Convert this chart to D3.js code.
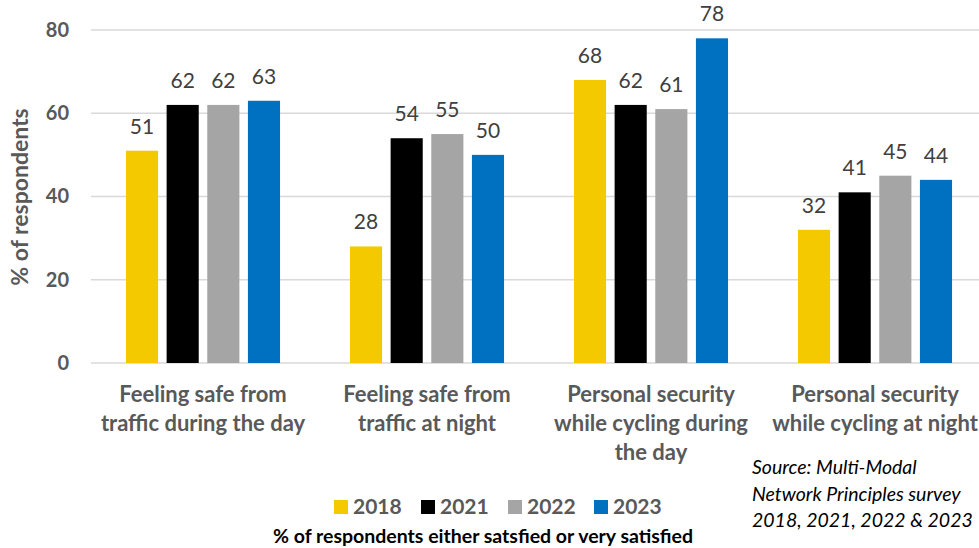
<!DOCTYPE html>
<html>
<head>
<meta charset="utf-8">
<script src="https://cdn.jsdelivr.net/npm/d3@7"></script>
<style>
  body { margin: 0; background: #fff; }
  text { font-family: Lato, "Open Sans", sans-serif; }
</style>
</head>
<body>
<div id="chart"></div>
<script>
// data
const categories = [
  ["Feeling safe from", "traffic during the day"],
  ["Feeling safe from", "traffic at night"],
  ["Personal security", "while cycling during", "the day"],
  ["Personal security", "while cycling at night"]
]
const years = ["2018", "2021", "2022", "2023"]
const values2018 = [51, 28, 68, 32]
const values2021 = [62, 54, 62, 41]
const values2022 = [62, 55, 61, 45]
const values2023 = [63, 50, 78, 44]
const yTicks = [0, 20, 40, 60, 80]
const colors = ["#F5C900", "#000000", "#A5A5A5", "#0070C0"]

const series = [values2018, values2021, values2022, values2023]

let width = 979
let height = 548

const svg = d3.select('#chart')
  .append('svg')
  .attr('width', width)
  .attr('height', height)

let x0 = d3.scaleBand()
  .domain(d3.range(categories.length))
  .range([91, 987])
  .padding(0)

let x1 = d3.scaleBand()
  .domain(years)
  .range([0, x0.bandwidth()])
  .paddingInner(0.21)
  .paddingOuter(0.86)

let y = d3.scaleLinear()
  .domain([0, 80])
  .range([363, 30])

// gridlines
svg.append('g')
  .selectAll('line')
  .data(yTicks)
  .join('line')
  .attr('x1', 91)
  .attr('x2', width)
  .attr('y1', d => y(d))
  .attr('y2', d => y(d))
  .attr('stroke', '#d9d9d9')
  .attr('stroke-width', 1.3)

// y axis labels
yAxis = g => g
  .attr('transform', 'translate(77,0)')
  .call(d3.axisLeft(y).tickValues(yTicks).tickSize(0).tickPadding(8))
  .call(g => g.select('.domain').remove())
  .call(g => g.selectAll('text')
    .attr('font-size', 20)
    .attr('font-weight', 'bold')
    .attr('fill', '#595959')
    .style('font-family', 'Lato, sans-serif'))

svg.append('g').call(yAxis)

svg.append('text')
  .attr('transform', 'translate(28,197) rotate(-90)')
  .attr('text-anchor', 'middle')
  .attr('font-size', 23)
  .attr('font-weight', 'bold')
  .attr('fill', '#595959')
  .text('% of respondents')

// bars
series.forEach(function(vals, si){
  let g = svg.append('g')
  g.selectAll('rect')
    .data(vals)
    .join('rect')
    .attr('x', (d, i) => x0(i) + x1(years[si]))
    .attr('y', d => y(d))
    .attr('width', x1.bandwidth())
    .attr('height', d => y(0) - y(d))
    .attr('fill', colors[si])

  g.selectAll('text')
    .data(vals)
    .join('text')
    .attr('x', (d, i) => x0(i) + x1(years[si]) + x1.bandwidth() / 2)
    .attr('y', d => y(d) - 17)
    .attr('text-anchor', 'middle')
    .attr('font-size', 21)
    .attr('fill', '#404040')
    .text(d => d)
})

// category labels
categories.forEach(function(lines, i){
  let t = svg.append('text')
    .attr('x', x0(i) + x0.bandwidth() / 2)
    .attr('y', 402)
    .attr('text-anchor', 'middle')
    .attr('font-size', 22)
    .attr('font-weight', 'bold')
    .attr('fill', '#595959')
  lines.forEach(function(line, j){
    t.append('tspan')
      .attr('x', x0(i) + x0.bandwidth() / 2)
      .attr('dy', j == 0 ? 0 : 29)
      .text(line)
  })
})

// legend
let legendX = [334, 421, 508, 594]
years.forEach(function(yr, i){
  svg.append('rect')
    .attr('x', legendX[i])
    .attr('y', 500)
    .attr('width', 14)
    .attr('height', 14)
    .attr('fill', colors[i])
  svg.append('text')
    .attr('x', legendX[i] + 19)
    .attr('y', 514)
    .attr('font-size', 21)
    .attr('font-weight', 'bold')
    .attr('fill', '#595959')
    .text(yr)
})

svg.append('text')
  .attr('x', 483)
  .attr('y', 543)
  .attr('text-anchor', 'middle')
  .attr('font-size', 19.5)
  .attr('font-weight', 'bold')
  .attr('fill', '#000')
  .text('% of respondents either satsfied or very satisfied')

// source note
let sourceLines = ['Source: Multi-Modal', 'Network Principles survey', '2018, 2021, 2022 & 2023']
sourceLines.forEach(function(line, i){
  svg.append('text')
    .attr('x', 752)
    .attr('y', 474 + i * 26.5)
    .attr('font-size', 19.5)
    .attr('font-style', 'italic')
    .attr('fill', '#000')
    .text(line)
})
</script>
</body>
</html>
